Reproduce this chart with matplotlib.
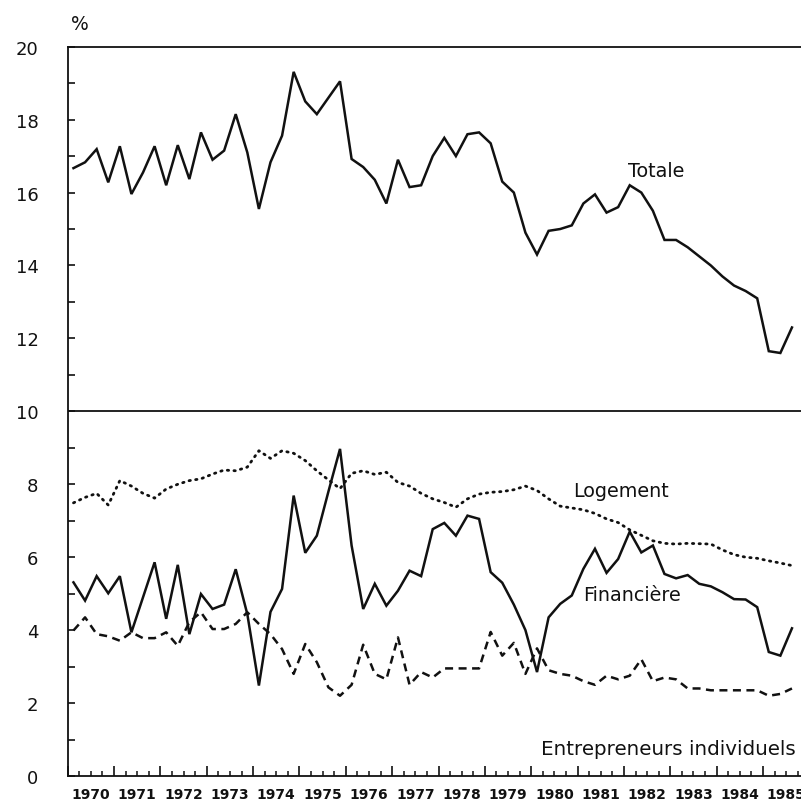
import numpy as np
import matplotlib
matplotlib.use("Agg")
import matplotlib.pyplot as plt
from matplotlib.ticker import MultipleLocator, FixedLocator, NullFormatter

# Quarterly observations, 1970 Q1 - 1985 Q3
start_year = 1970
n_quarters = 63
year_labels = [str(y) for y in range(1970, 1986)]

totale = [16.67, 16.83, 17.19, 16.28, 17.27, 15.96, 16.55, 17.27, 16.20, 17.30,
          16.37, 17.65, 16.90, 17.15, 18.15, 17.10, 15.55, 16.83, 17.56, 19.31,
          18.50, 18.15, 18.60, 19.05, 16.92, 16.70, 16.35, 15.70, 16.90, 16.15,
          16.20, 17.00, 17.50, 17.00, 17.60, 17.65, 17.35, 16.30, 16.00, 14.90,
          14.30, 14.95, 15.00, 15.10, 15.70, 15.95, 15.45, 15.60, 16.20, 16.00,
          15.50, 14.70, 14.70, 14.50, 14.25, 14.00, 13.70, 13.45, 13.30, 13.10,
          11.65, 11.60, 12.30]

logement = [7.49, 7.64, 7.75, 7.43, 8.10, 7.95, 7.75, 7.62, 7.87, 8.00,
            8.10, 8.15, 8.28, 8.39, 8.37, 8.47, 8.92, 8.71, 8.92, 8.85,
            8.65, 8.37, 8.12, 7.88, 8.30, 8.37, 8.27, 8.33, 8.05, 7.95,
            7.75, 7.60, 7.50, 7.37, 7.60, 7.73, 7.78, 7.80, 7.85, 7.95,
            7.83, 7.60, 7.40, 7.35, 7.30, 7.20, 7.05, 6.95, 6.75, 6.60,
            6.45, 6.38, 6.36, 6.38, 6.37, 6.36, 6.20, 6.07, 6.00, 5.97,
            5.90, 5.84, 5.77]

financiere = [5.31, 4.81, 5.48, 5.01, 5.48, 3.94, 4.90, 5.86, 4.31, 5.79,
              3.89, 4.99, 4.58, 4.70, 5.67, 4.44, 2.48, 4.50, 5.13, 7.69,
              6.12, 6.59, 7.80, 8.97, 6.32, 4.58, 5.27, 4.67, 5.08, 5.63,
              5.48, 6.77, 6.94, 6.59, 7.14, 7.05, 5.59, 5.30, 4.70, 4.00,
              2.85, 4.35, 4.72, 4.95, 5.68, 6.23, 5.57, 5.95, 6.70, 6.13,
              6.32, 5.54, 5.42, 5.51, 5.27, 5.20, 5.04, 4.85, 4.84, 4.63,
              3.40, 3.30, 4.05]

entrepreneurs = [3.99, 4.35, 3.89, 3.83, 3.71, 3.94, 3.78, 3.78, 3.94, 3.57,
                 4.22, 4.49, 4.03, 4.03, 4.17, 4.49, 4.17, 3.89, 3.48, 2.80,
                 3.62, 3.12, 2.43, 2.20, 2.50, 3.60, 2.80, 2.65, 3.80, 2.50,
                 2.85, 2.70, 2.95, 2.95, 2.95, 2.95, 3.95, 3.30, 3.65, 2.80,
                 3.50, 2.90, 2.80, 2.75, 2.60, 2.50, 2.75, 2.65, 2.75, 3.20,
                 2.60, 2.70, 2.65, 2.40, 2.40, 2.35, 2.35, 2.35, 2.35, 2.35,
                 2.20, 2.25, 2.40]

# quarter mid-points on a continuous year axis
quarter_index = np.arange(n_quarters)
t = start_year + (quarter_index + 0.5) / 4.0

fig = plt.figure(figsize=(8.01, 8.03), dpi=100)
ax = fig.add_axes([0.0845, 0.0324, 0.9155, 0.9082])

ink = "#111111"
ax.plot(t, totale, color=ink, lw=1.8, solid_joinstyle="miter")
ax.plot(t, financiere, color=ink, lw=1.8, solid_joinstyle="miter")
ax.plot(t, logement, color=ink, lw=2.0, linestyle=(0, (0.5, 1.9)),
        dash_capstyle="round")
ax.plot(t, entrepreneurs, color=ink, lw=1.8, linestyle=(0, (3.2, 2.2)))

# separator between the two panels
ax.axhline(10, color=ink, lw=1.3)

ax.set_xlim(1970, 1985.82)
ax.set_ylim(0, 20)

for side in ("left", "bottom", "top"):
    ax.spines[side].set_linewidth(1.3)
    ax.spines[side].set_color(ink)
ax.spines["right"].set_visible(False)

# y axis: labelled every 2, unlabelled ticks in between
ax.yaxis.set_major_locator(MultipleLocator(2))
ax.yaxis.set_minor_locator(MultipleLocator(1))
ax.tick_params(axis="y", which="both", direction="in", length=5, width=1.2,
               color=ink, pad=21, labelsize=13, labelcolor=ink)

# x axis: tall ticks at year boundaries, short ones at quarters
ax.xaxis.set_major_locator(FixedLocator(np.arange(1970, 1986)))
ax.xaxis.set_minor_locator(MultipleLocator(0.25))
ax.xaxis.set_major_formatter(NullFormatter())
ax.tick_params(axis="x", which="major", direction="in", length=7.5, width=1.2,
               color=ink)
ax.tick_params(axis="x", which="minor", direction="in", length=3.6, width=1.1,
               color=ink)

# year labels centred in each year
for i, lab in enumerate(year_labels):
    ax.annotate(lab, xy=(start_year + i + 0.5, 0), xycoords=("data", "axes fraction"),
                xytext=(0, -8), textcoords="offset points", ha="center", va="top",
                fontsize=10, fontweight="bold", color=ink,
                annotation_clip=False)

ax.annotate("%", xy=(0, 1), xycoords="axes fraction", xytext=(9, 17),
            textcoords="offset points", ha="center", va="center",
            fontsize=13.5, color=ink)

label_kw = dict(fontsize=13.8, color=ink, ha="left", va="baseline")
ax.text(1982.09, 16.46, "Totale", **label_kw)
ax.text(1980.90, 7.68, "Logement", **label_kw)
ax.text(1981.12, 4.83, "Financière", **label_kw)
ax.text(1980.21, 0.60, "Entrepreneurs individuels", fontsize=14.3, color=ink,
        ha="left", va="baseline")

fig.savefig("out.png", dpi=100)
